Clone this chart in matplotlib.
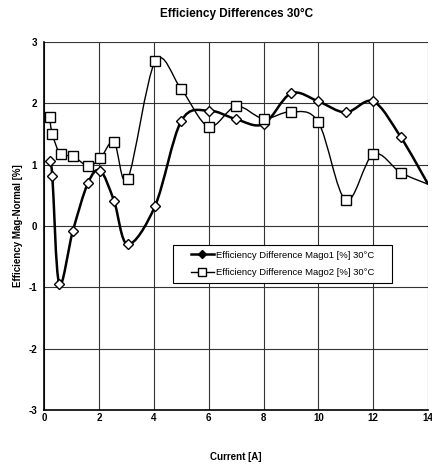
import numpy as np
import matplotlib
matplotlib.use("Agg")
import matplotlib.pyplot as plt
from matplotlib.path import Path
from matplotlib.patches import PathPatch, Rectangle
from matplotlib.lines import Line2D

plt.rcParams['font.family'] = ['Liberation Sans', 'DejaVu Sans']
plt.rcParams['font.weight'] = 'bold'
plt.rcParams['axes.unicode_minus'] = False

# -----------------------------
# Data
# -----------------------------
current_1 = [0.2, 0.3, 0.55, 1.05, 1.6, 2.05, 2.55, 3.05, 4.05, 5.0,
             6.0, 7.0, 8.0, 9.0, 10.0, 11.0, 12.0, 13.0, 14.0]
mago1 = [1.06, 0.82, -0.94, -0.08, 0.70, 0.90, 0.41, -0.30, 0.33, 1.71,
         1.88, 1.74, 1.66, 2.16, 2.03, 1.85, 2.03, 1.45, 0.68]

current_2 = [0.2, 0.3, 0.6, 1.05, 1.6, 2.05, 2.55, 3.05, 4.05, 5.0,
             6.0, 7.0, 8.0, 9.0, 10.0, 11.0, 12.0, 13.0, 14.0]
mago2 = [1.78, 1.50, 1.17, 1.14, 0.98, 1.10, 1.37, 0.77, 2.68, 2.23,
         1.62, 1.95, 1.75, 1.86, 1.69, 0.42, 1.17, 0.87, 0.68]

label_1 = "Efficiency Difference Mago1 [%] 30°C"
label_2 = "Efficiency Difference Mago2 [%] 30°C"


# -----------------------------
# Excel-like smoothed line as a Bezier path
# -----------------------------
def smooth_path(ax, xs, ys):
    pts = ax.transData.transform(np.column_stack([xs, ys]))
    n = len(pts)
    verts = [pts[0]]
    codes = [Path.MOVETO]
    for i in range(n - 1):
        p0 = pts[i - 1] if i > 0 else pts[i]
        p1 = pts[i]
        p2 = pts[i + 1]
        p3 = pts[i + 2] if i + 2 < n else pts[i + 1]
        c1 = p1 + (p2 - p0) / 6.0
        c2 = p2 - (p3 - p1) / 6.0
        verts += [c1, c2, p2]
        codes += [Path.CURVE4] * 3
    return Path(verts, codes)


fig = plt.figure(figsize=(4.32, 4.65), dpi=100)
ax = fig.add_axes([0.102, 0.118, 0.889, 0.792])

ax.set_xlim(0, 14)
ax.set_ylim(-3, 3)
ax.set_xticks(range(0, 15, 2))
ax.set_yticks(range(-3, 4))
ax.grid(True, color='#333333', linewidth=0.8)
ax.set_axisbelow(True)
ax.tick_params(axis='x', labelsize=7, length=0, pad=2)
ax.tick_params(axis='y', labelsize=7, length=0, pad=5)
for s in ['top', 'right']:
    ax.spines[s].set_visible(False)
ax.spines['left'].set_linewidth(1.2)
ax.spines['bottom'].set_linewidth(1.2)

fig.canvas.draw()

# curves (display coords)
p1 = PathPatch(smooth_path(ax, current_1, mago1), facecolor='none',
               edgecolor='black', linewidth=1.8, transform=None, zorder=3)
p2 = PathPatch(smooth_path(ax, current_2, mago2), facecolor='none',
               edgecolor='black', linewidth=1.0, transform=None, zorder=3)
ax.add_patch(p1)
ax.add_patch(p2)

ax.plot(current_1[:-1], mago1[:-1], linestyle='none', marker='D', markersize=5,
        markerfacecolor='white', markeredgecolor='black', markeredgewidth=1.0, zorder=4)
ax.plot(current_2[:-1], mago2[:-1], linestyle='none', marker='s', markersize=6.5,
        markerfacecolor='white', markeredgecolor='black', markeredgewidth=1.0, zorder=4)

# legend box
ax.add_patch(Rectangle((0.336, 0.345), 0.570, 0.103, transform=ax.transAxes,
                       facecolor='white', edgecolor='black', linewidth=0.8,
                       zorder=4.5))
handles = [
    Line2D([], [], color='black', linewidth=1.8, marker='D', markersize=4,
           markerfacecolor='black'),
    Line2D([], [], color='black', linewidth=1.0, marker='s', markersize=5.5,
           markerfacecolor='white'),
]
leg = ax.legend(handles, [label_1, label_2], loc='center',
                bbox_to_anchor=(0.621, 0.397), frameon=False,
                handlelength=2.4, handletextpad=0.2, borderpad=0.3,
                labelspacing=0.9, prop={'weight': 'normal', 'size': 6.8})
leg.set_zorder(5)

ax.set_title("Efficiency Differences 30°C", fontsize=8.5, fontweight='bold', pad=18)
ax.set_xlabel("Current [A]", fontsize=7, fontweight='bold', labelpad=21)
ax.set_ylabel("Efficiency Mag-Normal [%]", fontsize=7, fontweight='bold', labelpad=4)

fig.savefig("out.png", dpi=100)
